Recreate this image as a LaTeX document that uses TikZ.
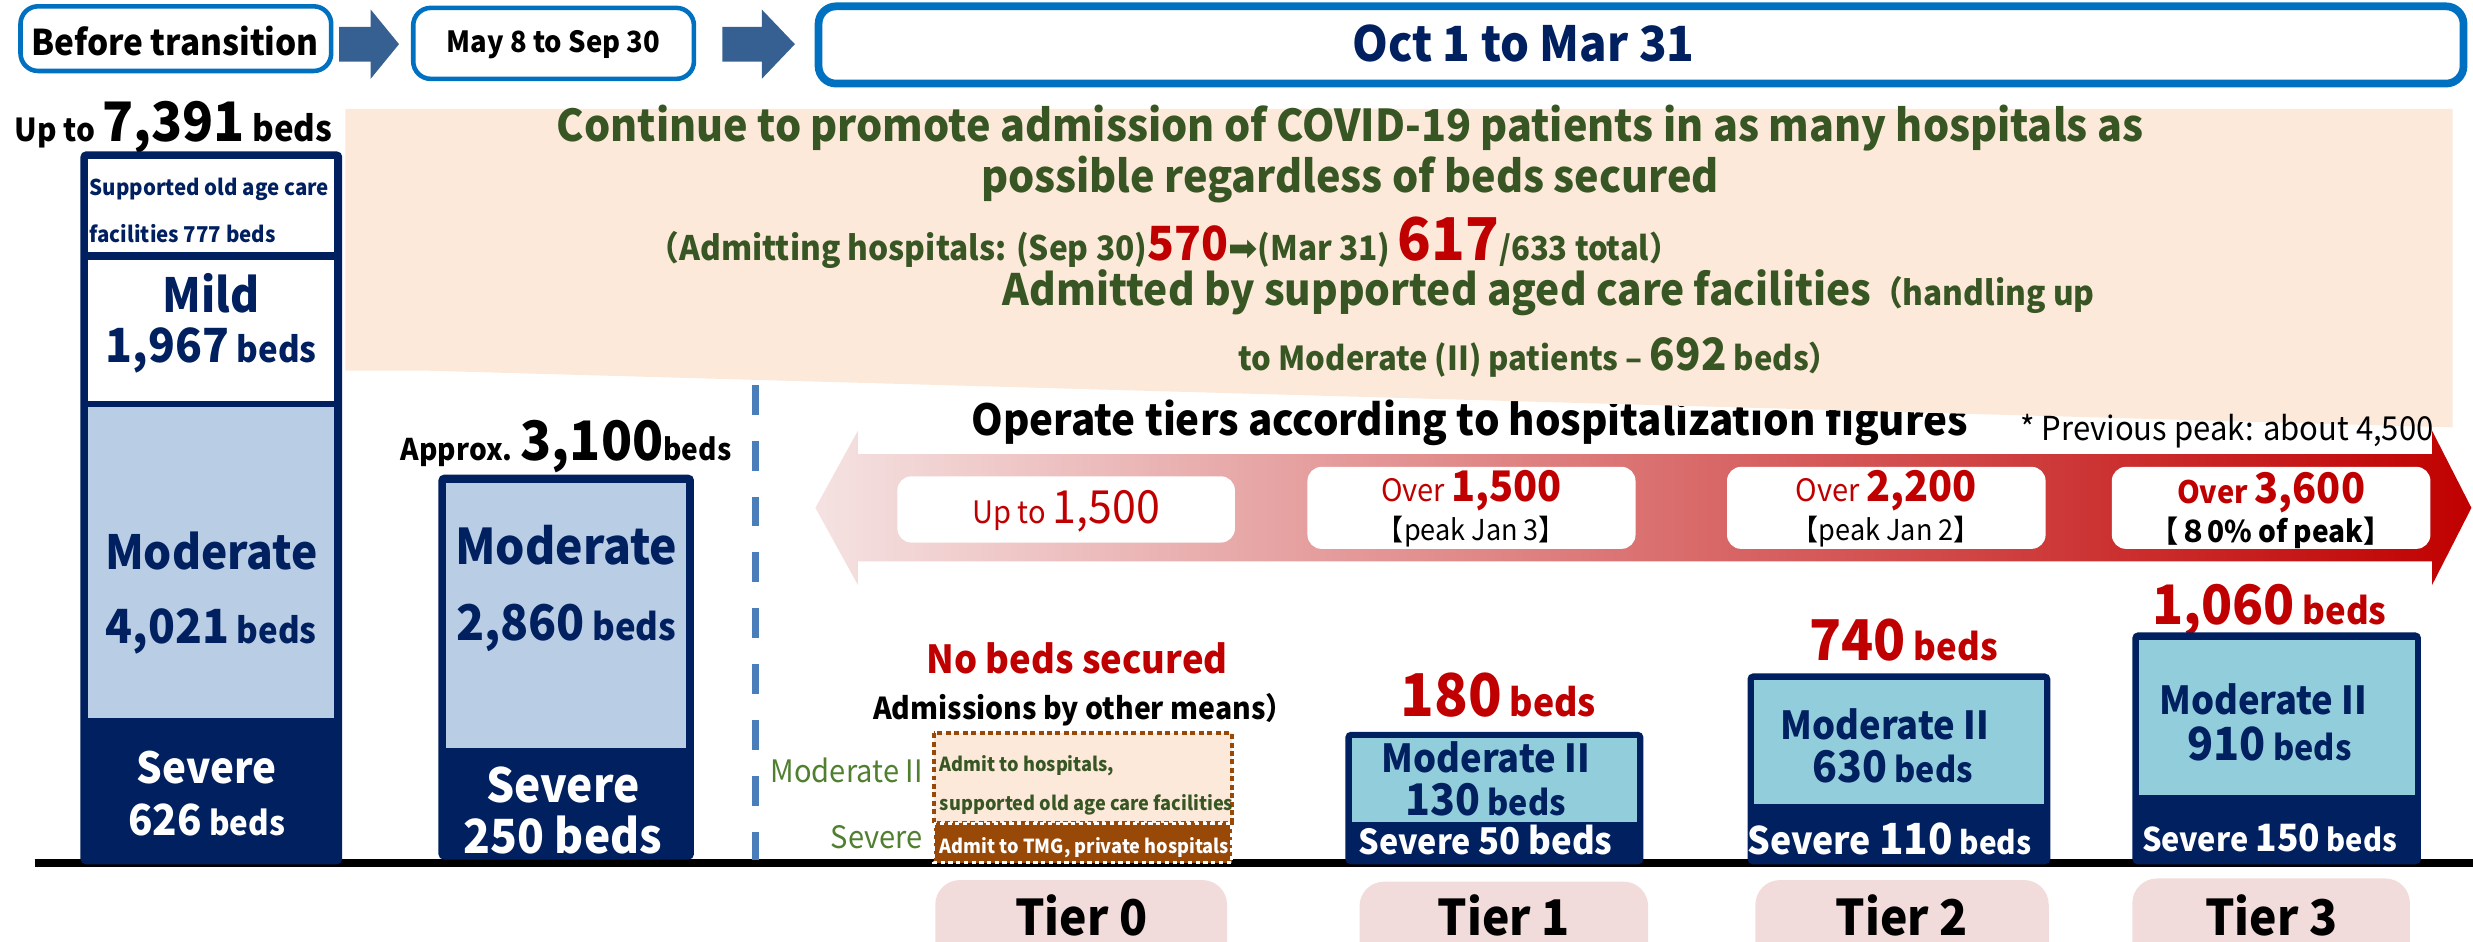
\documentclass[tikz,border=0pt]{standalone}
\usepackage{fontspec}
\setmainfont{Noto Sans CJK JP}[FakeStretch=0.94]
\newfontfamily\dejavu{DejaVu Sans}
\newcommand{\myfs}[1]{\fontsize{#1}{#1}\selectfont}
\definecolor{navy}{HTML}{002060}
\definecolor{bluebox}{HTML}{0070C0}
\definecolor{arrowblue}{HTML}{376092}
\definecolor{lightblue}{HTML}{B9CDE5}
\definecolor{tierblue}{HTML}{92CDDC}
\definecolor{peach}{HTML}{FCE9DA}
\definecolor{greentext}{HTML}{375623}
\definecolor{redtext}{HTML}{C00000}
\definecolor{brownc}{HTML}{984807}
\definecolor{pinkbox}{HTML}{F2DCDB}
\definecolor{dashblue}{HTML}{4A7EBB}
\definecolor{lgreen}{HTML}{4F7F2F}
\definecolor{arrowpale}{HTML}{F5E2E2}
\tikzset{
  txt/.style={anchor=base, inner sep=0pt, outer sep=0pt},
  txtw/.style={anchor=base west, inner sep=0pt, outer sep=0pt},
  txte/.style={anchor=base east, inner sep=0pt, outer sep=0pt},
  topbox/.style={draw=bluebox, line width=1.3pt, fill=white, rounded corners=5pt},
  blockarrow/.style={fill=arrowblue},
  barouter/.style={fill=navy, rounded corners=1.5pt},
  whitebox/.style={fill=white, rounded corners=4pt},
  tierbox/.style={fill=pinkbox, rounded corners=7pt},
}
\begin{document}
\begin{tikzpicture}[x=0.015772cm, y=-0.015772cm]
\useasboundingbox (0,0) rectangle (1568,597);

% ---------- top row ----------
\draw[topbox] (13,4) rectangle (210,45);
\node[txt, font=\bfseries\myfs{10.1}] (before) at (111,35) {Before transition};
\fill[blockarrow] (215,17) -- (235,17) -- (235,6) -- (253,28) -- (235,50) -- (235,39) -- (215,39) -- cycle;
\draw[topbox] (262,5) rectangle (440,50);
\node[txt, font=\bfseries\myfs{8.3}] (may) at (351,33) {May 8 to Sep 30};
\fill[blockarrow] (458,17) -- (483,17) -- (483,6) -- (504,28) -- (483,50) -- (483,39) -- (458,39) -- cycle;
\draw[topbox, line width=2.2pt] (519,4) rectangle (1562,53);
\node[txt, font=\bfseries\myfs{13.8}, text=navy] (oct) at (966,39) {Oct 1 to Mar 31};

% ---------- "Operate tiers" title (partly under peach) ----------
\node[txt, font=\bfseries\myfs{12.2}] (operate) at (932,276) {Operate tiers according to hospitalization figures};

% ---------- peach area ----------
\fill[peach] (219,69) -- (1555,69) -- (1555,271) -- (270,235) -- (219,235) -- cycle;
\node[txt, font=\myfs{9.4}] (prevpeak) at (1412,279) {* Previous peak: about 4,500};
\node[txt, font=\bfseries\myfs{12.5}, text=greentext] (p1) at (856,90) {Continue to promote admission of COVID-19 patients in as many hospitals as};
\node[txt, font=\bfseries\myfs{12.5}, text=greentext] (p2) at (856,122) {possible regardless of beds secured};
\node[txt, font=\bfseries, text=greentext] (p3) at (738,165) {{\myfs{9.6}（Admitting hospitals: (Sep 30)}{\color{redtext}\myfs{13.4}570}{\dejavu\myfs{10}➡}{\myfs{9.6}(Mar 31) }{\color{redtext}\myfs{16.8}617}{\myfs{9.4}/633 total）}};
\node[txt, font=\bfseries, text=greentext] (p4) at (982,194) {{\myfs{12.3}Admitted by supported aged care facilities}{\myfs{9.6}（handling up}};
\node[txt, font=\bfseries, text=greentext] (p5) at (976,235) {{\myfs{9.4}to Moderate (II) patients – }{\myfs{12.7}692}{\myfs{9.4} beds）}};

% ---------- baseline ----------
\draw[line width=2.3pt] (22,547) -- (1568,547);

% ---------- left bar ----------
\node[txt, font=\bfseries] (upto) at (110,90) {{\myfs{9}Up to }{\myfs{15.5}7,391}{\myfs{10} beds}};
\fill[barouter] (51,96) rectangle (217,548);
\fill[white] (56,101) rectangle (212,160);
\fill[white] (56,165) rectangle (212,254);
\fill[lightblue] (56,258) rectangle (212,455);
\node[txtw, font=\bfseries\myfs{6.2}, text=navy] (sup1) at (57,124) {Supported old age care};
\node[txtw, font=\bfseries\myfs{6.2}, text=navy] (sup2) at (57,154) {facilities 777 beds};
\node[txt, font=\bfseries\myfs{13.4}, text=navy] (mild) at (134,198) {Mild};
\node[txt, font=\bfseries, text=navy] (mildn) at (134,230) {{\myfs{13.4}1,967} {\myfs{10}beds}};
\node[txt, font=\bfseries\myfs{13.4}, text=navy] (mod1) at (134,361) {Moderate};
\node[txt, font=\bfseries, text=navy] (mod1n) at (134,408) {{\myfs{13.4}4,021} {\myfs{10}beds}};
\node[txt, font=\bfseries\myfs{12.2}, text=white] (sev1) at (131,497) {Severe};
\node[txt, font=\bfseries, text=white] (sev1n) at (131,530) {{\myfs{12.2}626} {\myfs{9.5}beds}};

% ---------- second bar ----------
\node[txt, font=\bfseries] (approx) at (359,292) {{\myfs{8.5}Approx. }{\myfs{15.5}3,100}{\myfs{8.5}beds}};
\fill[barouter] (278,301) rectangle (440,545);
\fill[lightblue] (283,306) rectangle (435,474);
\node[txt, font=\bfseries\myfs{14}, text=navy] (mod2) at (359,358) {Moderate};
\node[txt, font=\bfseries, text=navy] (mod2n) at (359,406) {{\myfs{14}2,860} {\myfs{10.5}beds}};
\node[txt, font=\bfseries\myfs{13.4}, text=white] (sev2) at (357,509) {Severe};
\node[txt, font=\bfseries\myfs{13.4}, text=white] (sev2n) at (357,541) {250 beds};

% ---------- dashed divider ----------
\draw[dashblue, line width=2pt, dash pattern=on 8.5pt off 7.4pt] (479,244) -- (479,545);

% ---------- red double arrow ----------
\shade[left color=arrowpale, right color=redtext] (517,322) -- (544,273) -- (544,288) -- (1542,288) -- (1542,273) -- (1567,322) -- (1542,371) -- (1542,356) -- (544,356) -- (544,371) -- cycle;
\fill[whitebox] (569,302) rectangle (783,344);
\fill[whitebox] (829,296) rectangle (1037,348);
\fill[whitebox] (1095,296) rectangle (1297,348);
\fill[whitebox] (1339,296) rectangle (1541,348);
\node[txt, text=redtext] (ra) at (676,332) {{\myfs{8.8}Up to }{\myfs{13}1,500}};
\node[txt, text=redtext] (rb) at (933,318) {{\myfs{8.8}Over }{\bfseries\myfs{12}1,500}};
\node[txt, font=\myfs{8.2}] (rb2) at (933,343) {【peak Jan 3】};
\node[txt, text=redtext] (rc) at (1196,318) {{\myfs{8.8}Over }{\bfseries\myfs{12}2,200}};
\node[txt, font=\myfs{8.2}] (rc2) at (1196,343) {【peak Jan 2】};
\node[txt, text=redtext, font=\bfseries] (rd) at (1440,319) {{\myfs{8.8}Over }{\myfs{12}3,600}};
\node[txt, font=\bfseries\myfs{8.5}] (rd2) at (1440,344) {【８0\% of peak】};

% ---------- tier 0 ----------
\node[txt, font=\bfseries\myfs{11}, text=redtext] (nobeds) at (683,427) {No beds secured};
\node[txt, font=\bfseries\myfs{8.6}] (other) at (687,456) {Admissions by other means）};
\fill[peach] (592,465) rectangle (781,522);
\draw[brownc, line width=1.2pt, dash pattern=on 1.4pt off 1pt] (592,465) rectangle (781,522);
\fill[brownc] (592,522) rectangle (781,547);
\draw[white, line width=0.8pt, dash pattern=on 1.2pt off 1pt] (592,522) rectangle (781,547);
\node[txtw, font=\bfseries\myfs{5.5}, text=greentext] (adm1) at (596,489) {Admit to hospitals,};
\node[txtw, font=\bfseries\myfs{5.5}, text=greentext] (adm2) at (596,514) {supported old age care facilities};
\node[txtw, font=\bfseries\myfs{5.5}, text=white] (adm3) at (596,541) {Admit to TMG, private hospitals};
\node[txte, font=\myfs{8.8}, text=lgreen] (lmod) at (585,496) {Moderate II};
\node[txte, font=\myfs{8.8}, text=lgreen] (lsev) at (585,538) {Severe};

% ---------- tier 1 ----------
\node[txt, font=\bfseries, text=redtext] (t1n) at (950,454) {{\myfs{16.8}180} {\myfs{10.8}beds}};
\fill[barouter] (853,464) rectangle (1042,548);
\fill[tierblue] (857,468) rectangle (1038,521);
\node[txt, font=\bfseries\myfs{11}, text=navy] (t1m) at (942,490) {Moderate II};
\node[txt, font=\bfseries, text=navy] (t1mn) at (942,517) {{\myfs{12.4}130} {\myfs{9.8}beds}};
\node[txt, font=\bfseries, text=white] (t1s) at (942,542) {{\myfs{9.8}Severe }{\myfs{10.5}50 beds}};

% ---------- tier 2 ----------
\node[txt, font=\bfseries, text=redtext] (t2n) at (1207,419) {{\myfs{16}740} {\myfs{10.5}beds}};
\fill[barouter] (1108,427) rectangle (1300,548);
\fill[tierblue] (1112,431) rectangle (1296,510);
\node[txt, font=\bfseries\myfs{11}, text=navy] (t2m) at (1195,469) {Moderate II};
\node[txt, font=\bfseries, text=navy] (t2mn) at (1200,496) {{\myfs{12.4}630} {\myfs{9.8}beds}};
\node[txt, font=\bfseries, text=white] (t2s) at (1198,542) {{\myfs{10.8}Severe }{\myfs{12.2}110}{\myfs{9} beds}};

% ---------- tier 3 ----------
\node[txt, font=\bfseries, text=redtext] (t3n) at (1439,396) {{\myfs{15.5}1,060} {\myfs{10.5}beds}};
\fill[barouter] (1352,401) rectangle (1535,548);
\fill[tierblue] (1356,406) rectangle (1531,504);
\node[txt, font=\bfseries\myfs{11}, text=navy] (t3m) at (1435,453) {Moderate II};
\node[txt, font=\bfseries, text=navy] (t3mn) at (1439,482) {{\myfs{13}910} {\myfs{9.8}beds}};
\node[txt, font=\bfseries, text=white] (t3s) at (1439,540) {{\myfs{9.3}Severe }{\myfs{10.7}150}{\myfs{8.8} beds}};

% ---------- tier labels ----------
\fill[tierbox] (593,558) rectangle (778,630);
\fill[tierbox] (862,559) rectangle (1045,630);
\fill[tierbox] (1113,558) rectangle (1299,630);
\fill[tierbox] (1352,557) rectangle (1528,630);
\node[txt, font=\bfseries\myfs{14}] (tier0) at (685.5,593) {Tier 0};
\node[txt, font=\bfseries\myfs{14}] (tier1) at (953.5,593) {Tier 1};
\node[txt, font=\bfseries\myfs{14}] (tier2) at (1206,593) {Tier 2};
\node[txt, font=\bfseries\myfs{14}] (tier3) at (1440,593) {Tier 3};
\end{tikzpicture}
\end{document}
